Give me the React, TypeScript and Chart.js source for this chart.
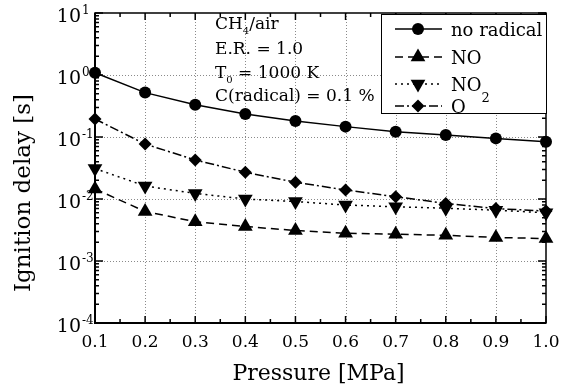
import React, { useEffect, useRef } from 'react';
import { Chart, registerables } from 'chart.js';

Chart.register(...registerables);

// ---- data ----
const pressure = [0.1, 0.2, 0.3, 0.4, 0.5, 0.6, 0.7, 0.8, 0.9, 1.0];
const noRadical = [1.09, 0.52, 0.33, 0.235, 0.181, 0.147, 0.122, 0.108, 0.095, 0.084];
const withNO = [0.0145, 0.0063, 0.0043, 0.0036, 0.0031, 0.0028, 0.0027, 0.0026, 0.0024, 0.0023];
const withNO2 = [0.031, 0.0162, 0.0123, 0.01, 0.0091, 0.008, 0.0075, 0.0071, 0.0066, 0.006];
const withO = [0.195, 0.077, 0.0426, 0.027, 0.0186, 0.014, 0.0109, 0.0085, 0.007, 0.0064];

const xTicks = [0.1, 0.2, 0.3, 0.4, 0.5, 0.6, 0.7, 0.8, 0.9, 1.0];
const xMinorTicks = [0.15, 0.25, 0.35, 0.45, 0.55, 0.65, 0.75, 0.85, 0.95];
const xTickLabels = ['0.1', '0.2', '0.3', '0.4', '0.5', '0.6', '0.7', '0.8', '0.9', '1.0'];
const yExponents = [1, 0, -1, -2, -3, -4];
const yMinorMantissas = [2, 3, 4, 5, 6, 7, 8, 9];

const xTitle = 'Pressure [MPa]';
const yTitle = 'Ignition delay [s]';

type Seg = { t: string; sub?: boolean };
const legendLabels: Seg[][] = [
  [{ t: 'no radical' }],
  [{ t: 'NO' }],
  [{ t: 'NO' }, { t: '2', sub: true }],
  [{ t: 'O' }],
];
const annotationLines: Seg[][] = [
  [{ t: 'CH' }, { t: '4', sub: true }, { t: '/air' }],
  [{ t: 'E.R. = 1.0' }],
  [{ t: 'T' }, { t: '0', sub: true }, { t: ' = 1000 K' }],
  [{ t: 'C(radical) = 0.1 %' }],
];

const FONT = '"DejaVu Serif", "Liberation Serif", serif';

function drawMarker(ctx: CanvasRenderingContext2D, style: string, r: number, rot: number, x: number, y: number) {
  ctx.save();
  ctx.fillStyle = '#000';
  ctx.beginPath();
  if (style === 'circle') {
    ctx.arc(x, y, r, 0, Math.PI * 2);
  } else if (style === 'triangle') {
    const s = rot === 180 ? -1 : 1;
    ctx.moveTo(x, y - s * r);
    ctx.lineTo(x + Math.sin(Math.PI / 3) * r, y + s * r / 2);
    ctx.lineTo(x - Math.sin(Math.PI / 3) * r, y + s * r / 2);
    ctx.closePath();
  } else if (style === 'rectRot') {
    ctx.moveTo(x, y - r);
    ctx.lineTo(x + r, y);
    ctx.lineTo(x, y + r);
    ctx.lineTo(x - r, y);
    ctx.closePath();
  }
  ctx.fill();
  ctx.restore();
}

function drawRich(ctx: CanvasRenderingContext2D, x: number, y: number, segs: Seg[], size: number, subSize: number, subDrop: number) {
  let cx = x;
  for (const s of segs) {
    if (s.sub) {
      ctx.font = `${subSize}px ${FONT}`;
      ctx.fillText(s.t, cx, y + subDrop);
    } else {
      ctx.font = `${size}px ${FONT}`;
      ctx.fillText(s.t, cx, y);
    }
    cx += ctx.measureText(s.t).width;
  }
}

const decorPlugin = {
  id: 'decor',
  beforeDatasetsDraw(chart: any) {
    const { ctx, chartArea: a, scales } = chart;
    const xs = scales.x, ys = scales.y;
    ctx.save();
    ctx.strokeStyle = '#8a8a8a';
    ctx.lineWidth = 1;
    ctx.setLineDash([1, 2]);
    for (const v of xTicks.slice(1, -1)) {
      const px = Math.round(xs.getPixelForValue(v)) + 0.5;
      ctx.beginPath();
      ctx.moveTo(px, a.top);
      ctx.lineTo(px, a.bottom);
      ctx.stroke();
    }
    for (const e of yExponents.slice(1, -1)) {
      const py = Math.round(ys.getPixelForValue(Math.pow(10, e))) + 0.5;
      ctx.beginPath();
      ctx.moveTo(a.left, py);
      ctx.lineTo(a.right, py);
      ctx.stroke();
    }
    ctx.restore();
  },
  afterDatasetsDraw(chart: any) {
    const { ctx, chartArea: a, scales } = chart;
    const xs = scales.x, ys = scales.y;
    ctx.save();
    ctx.setLineDash([]);
    ctx.strokeStyle = '#000';
    // frame
    ctx.lineWidth = 1.5;
    ctx.strokeRect(a.left, a.top, a.right - a.left, a.bottom - a.top);
    ctx.lineWidth = 2;
    ctx.beginPath();
    ctx.moveTo(a.left, a.top);
    ctx.lineTo(a.left, a.bottom);
    ctx.lineTo(a.right, a.bottom);
    ctx.stroke();

    // x ticks
    ctx.lineWidth = 1.5;
    for (const v of xTicks) {
      const px = xs.getPixelForValue(v);
      ctx.beginPath();
      ctx.moveTo(px, a.bottom); ctx.lineTo(px, a.bottom - 7);
      ctx.moveTo(px, a.top); ctx.lineTo(px, a.top + 7);
      ctx.stroke();
    }
    for (const v of xMinorTicks) {
      const px = xs.getPixelForValue(v);
      ctx.beginPath();
      ctx.moveTo(px, a.bottom); ctx.lineTo(px, a.bottom - 4);
      ctx.moveTo(px, a.top); ctx.lineTo(px, a.top + 4);
      ctx.stroke();
    }
    // y ticks
    for (const e of yExponents) {
      const py = ys.getPixelForValue(Math.pow(10, e));
      ctx.beginPath();
      ctx.moveTo(a.left, py); ctx.lineTo(a.left + 8, py);
      ctx.moveTo(a.right, py); ctx.lineTo(a.right - 8, py);
      ctx.stroke();
      if (e < yExponents[0]) {
        for (const m of yMinorMantissas) {
          const pm = ys.getPixelForValue(m * Math.pow(10, e));
          ctx.beginPath();
          ctx.moveTo(a.left, pm); ctx.lineTo(a.left + 4, pm);
          ctx.moveTo(a.right, pm); ctx.lineTo(a.right - 4, pm);
          ctx.stroke();
        }
      }
    }

    ctx.fillStyle = '#000';
    // x tick labels
    ctx.font = `17px ${FONT}`;
    ctx.textAlign = 'center';
    ctx.textBaseline = 'alphabetic';
    xTicks.forEach((v, i) => {
      ctx.fillText(xTickLabels[i], xs.getPixelForValue(v), a.bottom + 24);
    });
    // y tick labels
    for (const e of yExponents) {
      const py = ys.getPixelForValue(Math.pow(10, e));
      ctx.font = `19px ${FONT}`;
      ctx.textAlign = 'right';
      ctx.fillText('10', a.left - 14, py + 9);
      ctx.font = `12px ${FONT}`;
      ctx.textAlign = 'left';
      ctx.fillText(e < 0 ? '-' + Math.abs(e) : String(e), a.left - 13, py + 1);
    }
    // axis titles
    ctx.font = `22px ${FONT}`;
    ctx.textAlign = 'center';
    ctx.fillText(xTitle, (a.left + a.right) / 2 - 2, 380);
    ctx.save();
    ctx.translate(30, 193);
    ctx.rotate(-Math.PI / 2);
    ctx.font = `23px ${FONT}`;
    ctx.fillText(yTitle, 0, 0);
    ctx.restore();

    // annotation
    ctx.textAlign = 'left';
    const baselines = [29, 54, 78, 101];
    annotationLines.forEach((segs, i) => {
      drawRich(ctx, 215, baselines[i], segs, 17, 10, 5);
    });

    // legend
    const lx = 381, ly = 14, lw = a.right - 381, lh = 99;
    ctx.fillStyle = '#fff';
    ctx.fillRect(lx, ly, lw, lh);
    ctx.strokeStyle = '#000';
    ctx.lineWidth = 1;
    ctx.strokeRect(lx + 0.5, ly + 0.5, lw, lh);
    const rows = [29, 57, 84, 106];
    chart.data.datasets.forEach((ds: any, i: number) => {
      const cy = rows[i];
      ctx.save();
      ctx.strokeStyle = '#000';
      ctx.lineWidth = ds.borderWidth;
      ctx.setLineDash(ds.borderDash || []);
      ctx.beginPath();
      ctx.moveTo(395, cy);
      ctx.lineTo(442, cy);
      ctx.stroke();
      ctx.restore();
      drawMarker(ctx, ds.pointStyle, ds.pointRadius, ds.pointRotation || 0, 418, cy);
      ctx.fillStyle = '#000';
      drawRich(ctx, 451, cy + 6.5, legendLabels[i], 18, 13, 11);
    });
    ctx.restore();
  },
};

function makeDataset(data: number[], dash: number[], style: string, r: number, rot = 0) {
  return {
    data: pressure.map((p, i) => ({ x: p, y: data[i] })),
    borderColor: '#000',
    backgroundColor: '#000',
    borderWidth: 1.5,
    borderDash: dash,
    pointStyle: style,
    pointRadius: r,
    pointRotation: rot,
    pointBorderWidth: 0,
    pointBackgroundColor: '#000',
    pointBorderColor: '#000',
    tension: 0,
    clip: false,
  };
}

export default function App() {
  const ref = useRef<HTMLCanvasElement>(null);
  useEffect(() => {
    document.body.style.margin = '0';
    if (!ref.current) return;
    const chart = new Chart(ref.current, {
      type: 'line',
      data: {
        datasets: [
          makeDataset(noRadical, [], 'circle', 6),
          makeDataset(withNO, [8, 5], 'triangle', 8.5),
          makeDataset(withNO2, [2, 4], 'triangle', 8.5, 180),
          makeDataset(withO, [9, 3, 2, 3], 'rectRot', 6.5),
        ] as any,
      },
      options: {
        animation: false,
        responsive: true,
        maintainAspectRatio: false,
        layout: { padding: { left: 95, right: 16, top: 13, bottom: 62 } },
        plugins: { legend: { display: false }, tooltip: { enabled: false } },
        scales: {
          x: { type: 'linear', min: 0.1, max: 1.0, display: false },
          y: { type: 'logarithmic', min: 1e-4, max: 10, display: false },
        },
      },
      plugins: [decorPlugin],
    });
    return () => chart.destroy();
  }, []);
  return (
    <div style={{ width: 562, height: 385, position: 'relative', background: '#fff' }}>
      <canvas ref={ref} />
    </div>
  );
}
